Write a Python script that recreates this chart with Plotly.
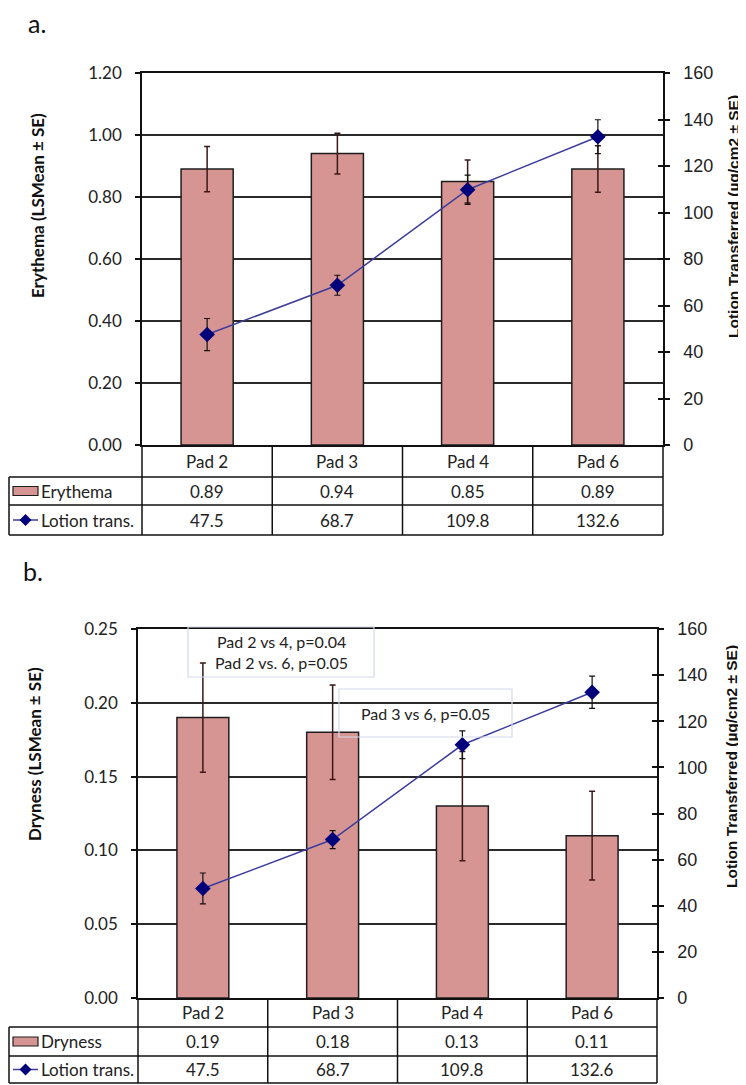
import plotly.graph_objects as go

# ---------------- data ----------------
pads = ["Pad 2", "Pad 3", "Pad 4", "Pad 6"]
erythema = [0.89, 0.94, 0.85, 0.89]
erythema_se = [0.073, 0.066, 0.069, 0.075]
dryness = [0.19, 0.18, 0.13, 0.11]
dryness_se = [0.037, 0.032, 0.037, 0.030]
lotion = [47.5, 68.7, 109.8, 132.6]
lotion_se_a = [6.9, 4.3, 6.3, 7.3]
lotion_se_b = [6.7, 3.9, 6.0, 7.0]
left_ticks_a = [0.0, 0.2, 0.4, 0.6, 0.8, 1.0, 1.2]
left_ticks_b = [0.0, 0.05, 0.10, 0.15, 0.20, 0.25]
right_ticks = [0, 20, 40, 60, 80, 100, 120, 140, 160]
pvals_b = ["Pad 2 vs 4, p=0.04<br>Pad 2 vs. 6, p=0.05", "Pad 3 vs 6, p=0.05"]

# page body has an 8px margin: figure is placed at (8, 8)
OFF = 8
W, H = 746 - OFF, 1085 - OFF
def X(px):
    return (px - OFF) / W
def Y(py):
    return 1 - (py - OFF) / H

BAR_FILL = "#d69592"
LINE_C = "#3c3c9c"
MARK_C = "#00007a"
GRID_C = "#2a2a2a"
TXT = "#222222"
FONT = "Lato"
AFONT = "Liberation Sans"

fig = go.Figure()

panels = [
    dict(x="x", y="y", y2="y2", yin="y5", vals=erythema, se=erythema_se, lse=lotion_se_a,
         name="Erythema", ticks=left_ticks_a, fmt="{:.2f}", rng=[0, 1.2],
         L=142, R=663, T=73, B=445, rows=[445, 477, 505, 535], left=9,
         ytitle="Erythema (LSMean ± SE)", ytc=(37, 206), rtc=(733, 217), lab="a.", labpos=(26, 23)),
    dict(x="x2", y="y3", y2="y4", yin="y6", vals=dryness, se=dryness_se, lse=lotion_se_b,
         name="Dryness", ticks=left_ticks_b, fmt="{:.2f}", rng=[0, 0.25],
         L=138, R=657, T=629, B=998, rows=[998, 1027, 1056, 1083], left=9,
         ytitle="Dryness (LSMean ± SE)", ytc=(34, 754), rtc=(731, 767), lab="b.", labpos=(21, 571)),
]

shapes = []
annos = []

def ann(**kw):
    kw.setdefault("xanchor", "center")
    kw.setdefault("yanchor", "middle")
    kw.setdefault("showarrow", False)
    annos.append(kw)

for i, p in enumerate(panels):
    fig.add_trace(go.Bar(
        x=pads, y=p["vals"], xaxis=p["x"], yaxis=p["y"], width=0.4,
        marker=dict(color=BAR_FILL, line=dict(color="#1e1e1e", width=1.5)),
        error_y=dict(type="data", array=p["se"], color="#3a1818", thickness=1.5, width=3),
        showlegend=False, hoverinfo="skip"))
    fig.add_trace(go.Scatter(
        x=pads, y=lotion, xaxis=p["x"], yaxis=p["y2"], mode="lines+markers",
        line=dict(color=LINE_C, width=1.5),
        marker=dict(symbol="diamond", size=12, color=MARK_C),
        error_y=dict(type="data", array=p["lse"], color="#111111", thickness=1.2, width=3),
        showlegend=False, hoverinfo="skip"))
    # invisible trace to activate inner-tick overlay axis
    fig.add_trace(go.Scatter(
        x=pads, y=lotion, xaxis=p["x"], yaxis=p["yin"], mode="markers",
        marker=dict(opacity=0), showlegend=False, hoverinfo="skip"))

    L, R, T, B = p["L"], p["R"], p["T"], p["B"]
    xdom = [X(L), X(R)]
    ydom = [Y(B), Y(T)]
    xk = "xaxis" if p["x"] == "x" else "xaxis2"
    yk = "yaxis" if p["y"] == "y" else "yaxis" + p["y"][1:]
    y2k = "yaxis" + p["y2"][1:]
    yink = "yaxis" + p["yin"][1:]
    fig.layout[xk] = dict(domain=xdom, anchor=p["y"], type="category", categoryorder="array",
                          categoryarray=pads, range=[-0.5, 3.5], showticklabels=False,
                          ticks="", showgrid=False, showline=True, mirror=True, automargin=False,
                          linecolor="#111111", linewidth=1.5, zeroline=False)
    fig.layout[yk] = dict(domain=ydom, anchor=p["x"], range=p["rng"], tickvals=p["ticks"],
                          ticktext=[p["fmt"].format(t) for t in p["ticks"]],
                          ticks="outside", ticklen=5, tickcolor="#111111", tickwidth=1.5,
                          ticklabelstandoff=10, automargin=False,
                          showgrid=True, gridcolor=GRID_C, gridwidth=1.5,
                          showline=True, linecolor="#111111", linewidth=1.5, zeroline=False,
                          tickfont=dict(family=FONT, size=17, color=TXT))
    fig.layout[y2k] = dict(domain=ydom, anchor=p["x"], overlaying=p["y"], side="right",
                           range=[0, 160], tickvals=right_ticks, ticks="outside", ticklen=5,
                           tickcolor="#111111", tickwidth=1.5, ticklabelstandoff=10,
                           automargin=False,
                           showgrid=False, showline=True, linecolor="#111111", linewidth=1.5,
                           zeroline=False, tickfont=dict(family=AFONT, size=18, color=TXT))
    fig.layout[yink] = dict(domain=ydom, anchor=p["x"], overlaying=p["y"], side="right",
                            range=[0, 160], tickvals=right_ticks, ticks="inside", ticklen=5,
                            tickcolor="#111111", tickwidth=1.5, showticklabels=False,
                            automargin=False,
                            showgrid=False, showline=False, zeroline=False)

    # ---- data table ----
    r0, r1, r2, r3 = p["rows"]
    lw = dict(color="#111111", width=1.5)
    shapes.append(dict(type="line", xref="paper", yref="paper", x0=X(L), x1=X(L), y0=Y(B), y1=Y(r3), line=lw))
    shapes.append(dict(type="line", xref="paper", yref="paper", x0=X(R), x1=X(R), y0=Y(B), y1=Y(r3), line=lw))
    shapes.append(dict(type="line", xref="paper", yref="paper", x0=X(p["left"]), x1=X(p["left"]), y0=Y(r1), y1=Y(r3), line=lw))
    for ry in (r1, r2, r3):
        shapes.append(dict(type="line", xref="paper", yref="paper", x0=X(p["left"]), x1=X(R), y0=Y(ry), y1=Y(ry), line=lw))
    cw = (R - L) / 4
    for k in range(1, 4):
        xx = L + cw * k
        shapes.append(dict(type="line", xref="paper", yref="paper", x0=X(xx), x1=X(xx), y0=Y(r0), y1=Y(r3), line=lw))
    for k, pad in enumerate(pads):
        ann(x=pad, xref=p["x"], y=Y((r0 + r1) / 2), yref="paper", text=pad,
            font=dict(family=FONT, size=17, color=TXT))
        ann(x=pad, xref=p["x"], y=Y((r1 + r2) / 2), yref="paper",
            text="{:.2f}".format(p["vals"][k]), font=dict(family=FONT, size=17, color=TXT))
        ann(x=pad, xref=p["x"], y=Y((r2 + r3) / 2), yref="paper",
            text="{:.1f}".format(lotion[k]), font=dict(family=FONT, size=17, color=TXT))
    # legend keys
    lx0, lx1 = p["left"] + 4, p["left"] + 29
    cy1 = (r1 + r2) / 2
    cy2 = (r2 + r3) / 2
    shapes.append(dict(type="rect", xref="paper", yref="paper", x0=X(lx0), x1=X(lx1),
                       y0=Y(cy1 + 4.5), y1=Y(cy1 - 4.5), fillcolor=BAR_FILL,
                       line=dict(color="#1e1e1e", width=1.2)))
    shapes.append(dict(type="line", xref="paper", yref="paper", x0=X(lx0), x1=X(lx1),
                       y0=Y(cy2), y1=Y(cy2), line=dict(color=LINE_C, width=1.5)))
    mx = (lx0 + lx1) / 2
    shapes.append(dict(type="path", xref="paper", yref="paper",
                       path="M {} {} L {} {} L {} {} L {} {} Z".format(
                           X(mx - 6), Y(cy2), X(mx), Y(cy2 - 6), X(mx + 6), Y(cy2), X(mx), Y(cy2 + 6)),
                       fillcolor=MARK_C, line=dict(color=MARK_C, width=0)))
    ann(x=X(lx1 + 1), xref="paper", xanchor="left", y=Y(cy1), yref="paper",
        text=p["name"], font=dict(family=FONT, size=17, color=TXT))
    ann(x=X(lx1 + 1), xref="paper", xanchor="left", y=Y(cy2), yref="paper",
        text="Lotion trans.", font=dict(family=FONT, size=17, color=TXT))

    # axis titles
    ann(x=X(p["ytc"][0]), y=Y(p["ytc"][1]), xref="paper", yref="paper", textangle=-90,
        text="<b>" + p["ytitle"] + "</b>", font=dict(family=FONT, size=17, color="#111111"))
    ann(x=X(p["rtc"][0]), y=Y(p["rtc"][1]), xref="paper", yref="paper", textangle=-90,
        text="<b>Lotion Transferred (µg/cm2 ± SE)</b>",
        font=dict(family=AFONT, size=15.5, color="#111111"))
    ann(x=X(p["labpos"][0]), y=Y(p["labpos"][1]), xref="paper", yref="paper",
        xanchor="left", text=p["lab"], font=dict(family=FONT, size=25, color="#111111"))

# p-value boxes (panel b)
boxes = [(188, 374, 627, 677), (339, 512, 689, 737)]
for (x0, x1, y0, y1), txt in zip(boxes, pvals_b):
    shapes.append(dict(type="rect", xref="paper", yref="paper", x0=X(x0), x1=X(x1), y0=Y(y1), y1=Y(y0),
                       line=dict(color="#d3daea", width=1.2), fillcolor="rgba(0,0,0,0)"))
    ann(x=X((x0 + x1) / 2), y=Y((y0 + y1) / 2), xref="paper", yref="paper",
        text=txt, align="center", font=dict(family=FONT, size=16, color=TXT))

fig.update_layout(width=W, height=H, margin=dict(l=0, r=0, t=0, b=0, autoexpand=False),
                  paper_bgcolor="white", plot_bgcolor="white",
                  shapes=shapes, annotations=annos, bargap=0.6)

fig.write_html("out.html")
